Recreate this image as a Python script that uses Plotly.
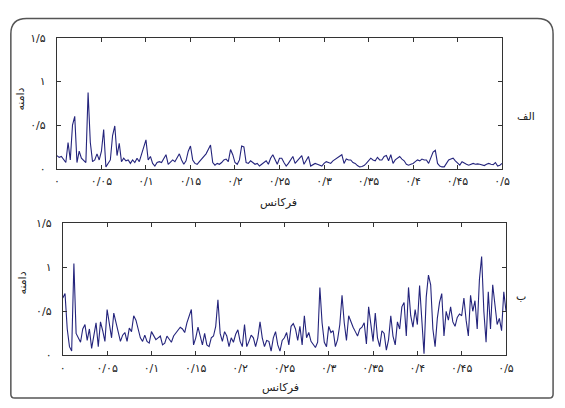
import numpy as np
import plotly.graph_objects as go

# ---- data ----
amp_alef = [
    0.15, 0.13, 0.14, 0.11, 0.07, 0.30, 0.10, 0.50, 0.60, 0.07,
    0.20, 0.12, 0.10, 0.07, 0.875, 0.30, 0.08, 0.10, 0.17, 0.10,
    0.20, 0.45, 0.02, 0.06, 0.10, 0.38, 0.49, 0.15, 0.29, 0.08,
    0.12, 0.09, 0.10, 0.06, 0.10, 0.07, 0.12, 0.08, 0.17, 0.25,
    0.33, 0.10, 0.14, 0.06, 0.03, 0.07, 0.08, 0.07, 0.12, 0.16,
    0.05, 0.07, 0.10, 0.08, 0.13, 0.17, 0.10, 0.05, 0.09, 0.20,
    0.26, 0.10, 0.06, 0.05, 0.08, 0.11, 0.14, 0.17, 0.22, 0.27,
    0.07, 0.04, 0.06, 0.05, 0.07, 0.10, 0.11, 0.08, 0.22, 0.16,
    0.07, 0.05, 0.10, 0.26, 0.25, 0.07, 0.06, 0.09, 0.07, 0.05,
    0.06, 0.03, 0.05, 0.07, 0.09, 0.05, 0.12, 0.16, 0.10, 0.05,
    0.12, 0.12, 0.07, 0.03, 0.06, 0.10, 0.14, 0.06, 0.09, 0.11,
    0.15, 0.05, 0.10, 0.14, 0.03, 0.05, 0.06, 0.05, 0.04, 0.03,
    0.06, 0.08, 0.07, 0.06, 0.09, 0.11, 0.12, 0.15, 0.16, 0.06,
    0.11, 0.10, 0.10, 0.07, 0.06, 0.035, 0.02, 0.025, 0.035, 0.06,
    0.09, 0.12, 0.10, 0.09, 0.13, 0.10, 0.10, 0.14, 0.15, 0.09,
    0.16, 0.06, 0.10, 0.12, 0.14, 0.11, 0.09, 0.05, 0.04, 0.05,
    0.06, 0.08, 0.10, 0.09, 0.11, 0.10, 0.10, 0.06, 0.12, 0.19,
    0.21, 0.06, 0.03, 0.02, 0.02, 0.06, 0.10, 0.11, 0.12, 0.09,
    0.06, 0.04, 0.08, 0.06, 0.05, 0.04, 0.05, 0.06, 0.05, 0.055,
    0.05, 0.04, 0.035, 0.05, 0.06, 0.05, 0.045, 0.07, 0.03, 0.04,
    0.06,
]

amp_be = [
    0.65, 0.70, 0.30, 0.10, 0.05, 1.04, 0.25, 0.20, 0.15, 0.30,
    0.35, 0.17, 0.30, 0.08, 0.25, 0.37, 0.10, 0.38, 0.28, 0.16,
    0.52, 0.35, 0.20, 0.48, 0.38, 0.27, 0.16, 0.23, 0.26, 0.16,
    0.31, 0.27, 0.45, 0.40, 0.28, 0.20, 0.16, 0.23, 0.16, 0.14,
    0.27, 0.22, 0.18, 0.20, 0.22, 0.12, 0.14, 0.22, 0.18, 0.15,
    0.22, 0.25, 0.28, 0.32, 0.30, 0.26, 0.37, 0.45, 0.52, 0.12,
    0.20, 0.32, 0.22, 0.12, 0.25, 0.12, 0.10, 0.20, 0.22, 0.33,
    0.63, 0.25, 0.16, 0.27, 0.22, 0.10, 0.20, 0.15, 0.24, 0.29,
    0.16, 0.10, 0.35, 0.10, 0.16, 0.23, 0.20, 0.10, 0.20, 0.38,
    0.20, 0.10, 0.17, 0.16, 0.05, 0.20, 0.27, 0.12, 0.05, 0.17,
    0.20, 0.26, 0.12, 0.33, 0.36, 0.30, 0.17, 0.33, 0.12, 0.45,
    0.20, 0.26, 0.16, 0.12, 0.09, 0.15, 0.77, 0.37, 0.15, 0.10,
    0.33, 0.26, 0.28, 0.10, 0.18, 0.35, 0.68, 0.37, 0.17, 0.45,
    0.38, 0.32, 0.27, 0.22, 0.30, 0.32, 0.37, 0.13, 0.55, 0.37,
    0.16, 0.48, 0.20, 0.10, 0.28, 0.25, 0.06, 0.18, 0.45, 0.22,
    0.12, 0.38, 0.30, 0.55, 0.60, 0.22, 0.77, 0.45, 0.32, 0.52,
    0.35, 0.79, 0.40, 0.02, 0.66, 0.91, 0.80, 0.30, 0.10, 0.42,
    0.60, 0.70, 0.22, 0.50, 0.40, 0.55, 0.38, 0.33, 0.43, 0.47,
    0.45, 0.65, 0.40, 0.22, 0.68, 0.50, 0.62, 0.30, 0.86, 1.12,
    0.50, 0.15, 0.72, 0.30, 0.80, 0.60, 0.35, 0.42, 0.28, 0.72,
    0.50,
]

freq = np.linspace(0.0, 0.5, len(amp_alef))

x_tickvals = [0, 0.05, 0.1, 0.15, 0.2, 0.25, 0.3, 0.35, 0.4, 0.45, 0.5]
x_ticktext = ["۰", "۰/۰۵", "۰/۱", "۰/۱۵", "۰/۲", "۰/۲۵", "۰/۳", "۰/۳۵", "۰/۴", "۰/۴۵", "۰/۵"]
y_tickvals = [0, 0.5, 1, 1.5]
y_ticktext = ["۰", "۰/۵", "۱", "۱/۵"]

x_title = "فرکانس"
y_title = "دامنه"
panel_labels = ["الف", "ب"]

# ---- figure ----
W, H = 565, 408
FONT = "DejaVu Sans"
LINE = "#24247c"

def px(x):
    return x / W

def py(y):
    return 1 - y / H

fig = go.Figure()
fig.add_trace(go.Scatter(x=freq, y=amp_alef, mode="lines",
                         line=dict(color=LINE, width=1.1), xaxis="x", yaxis="y",
                         showlegend=False, hoverinfo="skip"))
fig.add_trace(go.Scatter(x=freq, y=amp_be, mode="lines",
                         line=dict(color=LINE, width=1.1), xaxis="x2", yaxis="y2",
                         showlegend=False, hoverinfo="skip"))

axis_common = dict(showline=True, linecolor="#333333", linewidth=1, mirror="allticks",
                   ticks="inside", ticklen=4, tickcolor="#333333", showgrid=False,
                   zeroline=False, tickfont=dict(family=FONT, size=11, color="#222222"))

fig.update_layout(
    width=W, height=H,
    margin=dict(l=0, r=0, t=0, b=0),
    paper_bgcolor="white", plot_bgcolor="white",
    xaxis=dict(domain=[px(55), px(509)], range=[0, 0.5], anchor="y",
               tickvals=x_tickvals, ticktext=x_ticktext, ticklabelstandoff=2,
               **axis_common),
    yaxis=dict(domain=[py(168), py(33)], range=[0, 1.5], anchor="x",
               tickvals=y_tickvals, ticktext=y_ticktext, ticklabelstandoff=8,
               **axis_common),
    xaxis2=dict(domain=[px(61), px(513)], range=[0, 0.5], anchor="y2",
                tickvals=x_tickvals, ticktext=x_ticktext, ticklabelstandoff=2,
                **axis_common),
    yaxis2=dict(domain=[py(361), py(224)], range=[0, 1.5], anchor="x2",
                tickvals=y_tickvals, ticktext=y_ticktext, ticklabelstandoff=8,
                **axis_common),
)

annots = [
    dict(text=x_title, x=px(281), y=py(203)),
    dict(text=x_title, x=px(283), y=py(394)),
    dict(text=y_title, x=px(18), y=py(96), textangle=-90),
    dict(text=y_title, x=px(20), y=py(286), textangle=-90),
    dict(text=panel_labels[0], x=px(533), y=py(114)),
    dict(text=panel_labels[1], x=px(528), y=py(300)),
]
for a in annots:
    fig.add_annotation(xref="paper", yref="paper", showarrow=False,
                       xanchor="center", yanchor="middle",
                       font=dict(family=FONT, size=11, color="#222222"), **a)

# rounded outer frame
L, R, T, B = 8, 561, 13, 405
rt, rb = 16, 4
path = (f"M {px(L)},{py(B - rb)} "
        f"L {px(L)},{py(T + rt)} Q {px(L)},{py(T)} {px(L + rt)},{py(T)} "
        f"L {px(R - rt)},{py(T)} Q {px(R)},{py(T)} {px(R)},{py(T + rt)} "
        f"L {px(R)},{py(B - rb)} Q {px(R)},{py(B)} {px(R - rb)},{py(B)} "
        f"L {px(L + rb)},{py(B)} Q {px(L)},{py(B)} {px(L)},{py(B - rb)} Z")
fig.add_shape(type="path", path=path, xref="paper", yref="paper",
              line=dict(color="#555555", width=1.5), fillcolor="rgba(0,0,0,0)")

fig.write_html("out.html", config={"displayModeBar": False},
               post_script="document.body.style.margin='0';document.body.style.overflow='hidden';")
